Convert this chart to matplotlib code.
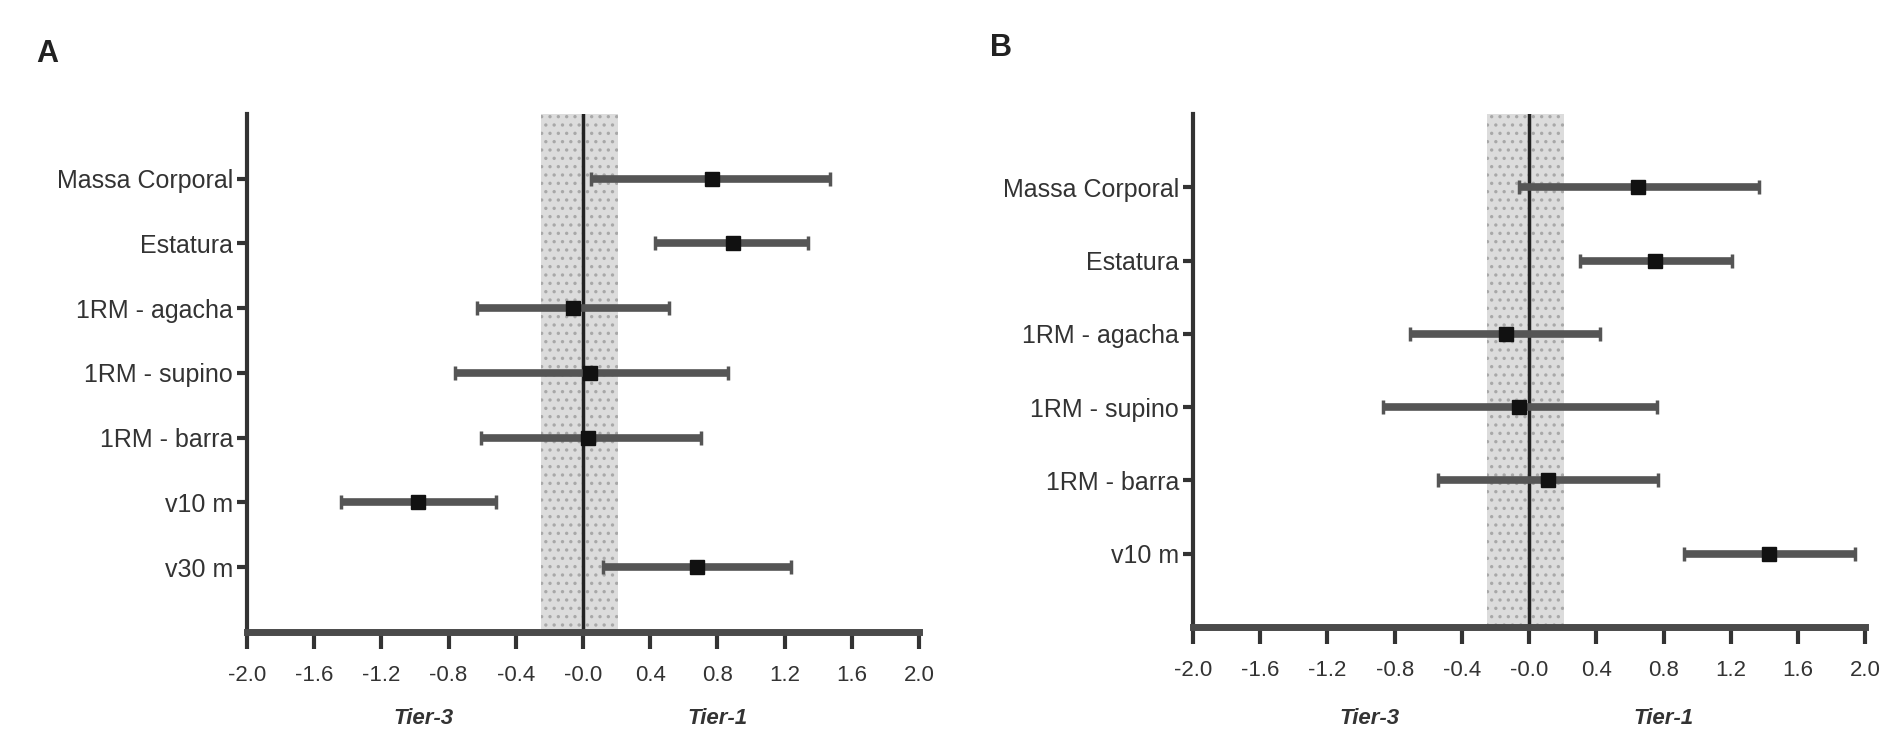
import numpy as np
import matplotlib.pyplot as plt
from matplotlib.transforms import blended_transform_factory

plt.rcParams['font.family'] = ['Liberation Sans', 'DejaVu Sans']
plt.rcParams['hatch.linewidth'] = 1.2

# Painel A
labels_a = ['Massa Corporal', 'Estatura', '1RM - agacha', '1RM - supino',
            '1RM - barra', 'v10 m', 'v30 m']
mean_a = [0.77, 0.89, -0.06, 0.04, 0.03, -0.98, 0.68]
low_a = [0.05, 0.43, -0.63, -0.76, -0.61, -1.44, 0.12]
high_a = [1.47, 1.34, 0.51, 0.86, 0.70, -0.52, 1.24]

# Painel B
labels_b = ['Massa Corporal', 'Estatura', '1RM - agacha', '1RM - supino',
            '1RM - barra', 'v10 m']
mean_b = [0.65, 0.75, -0.14, -0.06, 0.11, 1.43]
low_b = [-0.06, 0.30, -0.71, -0.87, -0.54, 0.92]
high_b = [1.37, 1.21, 0.42, 0.76, 0.77, 1.94]

xticks = np.arange(-2.0, 2.01, 0.4)
xtick_labels = ['-2.0', '-1.6', '-1.2', '-0.8', '-0.4', '-0.0',
                '0.4', '0.8', '1.2', '1.6', '2.0']
band = (-0.25, 0.21)

fig = plt.figure(figsize=(18.88, 7.33), dpi=100)
ax_a = fig.add_axes([0.1308, 0.1378, 0.356, 0.7067])
ax_b = fig.add_axes([0.6319, 0.1446, 0.356, 0.700])


def forest(ax, labels, mean, low, high):
    n = len(labels)
    y = np.arange(1, n + 1)
    mean = np.array(mean)
    err = [mean - np.array(low), np.array(high) - mean]

    ax.axvspan(band[0], band[1], facecolor='#dcdcdc', edgecolor='#a8a8a8',
               hatch='..', lw=0, zorder=0)
    ax.axvline(0, color='#222222', lw=2.5, zorder=1)
    ax.errorbar(mean, y, xerr=err, fmt='s', color='#555555', ecolor='#555555',
                elinewidth=5.5, capsize=5, capthick=2.5,
                mfc='#111111', mec='#111111', ms=10, zorder=3)

    ax.set_xlim(-2.0, 2.0)
    ax.set_ylim(n + 1, 0)
    ax.set_xticks(xticks)
    ax.set_xticklabels(xtick_labels)
    ax.set_yticks(y)
    ax.set_yticklabels(labels)

    for s in ['top', 'right']:
        ax.spines[s].set_visible(False)
    ax.spines['left'].set_color('#333333')
    ax.spines['left'].set_linewidth(3)
    ax.spines['bottom'].set_color('#4a4a4a')
    ax.spines['bottom'].set_linewidth(5)

    ax.tick_params(axis='x', length=12, width=3, color='#333333',
                   labelsize=16, labelcolor='#333333', pad=12)
    ax.tick_params(axis='y', length=7, width=3, color='#333333',
                   labelsize=18, labelcolor='#333333', pad=3)

    tr = blended_transform_factory(ax.transData, fig.transFigure)
    ax.text(-0.95, 4 / 733, 'Tier-3', transform=tr,
            ha='center', va='bottom', fontsize=16, style='italic',
            fontweight='bold', color='#333333')
    ax.text(0.8, 4 / 733, 'Tier-1', transform=tr,
            ha='center', va='bottom', fontsize=16, style='italic',
            fontweight='bold', color='#333333')


forest(ax_a, labels_a, mean_a, low_a, high_a)
forest(ax_b, labels_b, mean_b, low_b, high_b)

fig.text(36 / 1888, 1 - 54 / 733, 'A', fontsize=22, fontweight='bold',
         va='center', ha='left', color='#222222')
fig.text(990 / 1888, 1 - 48 / 733, 'B', fontsize=22, fontweight='bold',
         va='center', ha='left', color='#222222')

fig.savefig('out.png', dpi=100)
